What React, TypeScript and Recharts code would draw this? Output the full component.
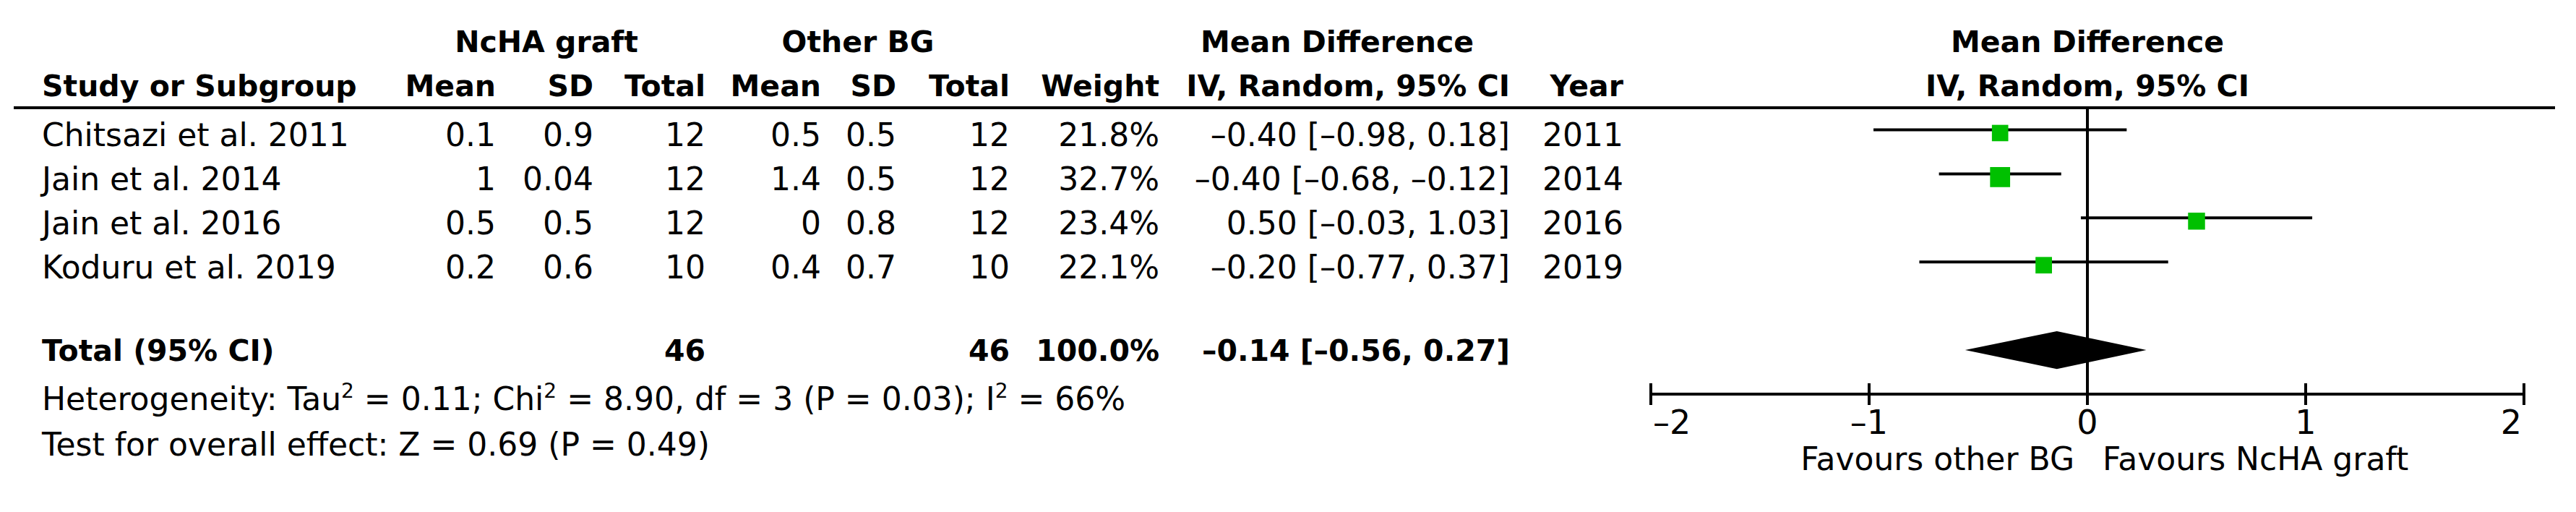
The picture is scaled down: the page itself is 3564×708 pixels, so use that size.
import React from 'react';
import {
  ComposedChart,
  Scatter,
  XAxis,
  YAxis,
  ErrorBar,
  ReferenceLine,
  ReferenceArea,
  Customized,
} from 'recharts';

// ---------- data ----------
const studies = ['Chitsazi et al. 2011', 'Jain et al. 2014', 'Jain et al. 2016', 'Koduru et al. 2019'];
const ncMean = [0.1, 1, 0.5, 0.2];
const ncSD = [0.9, 0.04, 0.5, 0.6];
const ncTotal = [12, 12, 12, 10];
const obMean = [0.5, 1.4, 0, 0.4];
const obSD = [0.5, 0.5, 0.8, 0.7];
const obTotal = [12, 12, 12, 10];
const weights = [21.8, 32.7, 23.4, 22.1];
const md = [-0.4, -0.4, 0.5, -0.2];
const ciLow = [-0.98, -0.68, -0.03, -0.77];
const ciHigh = [0.18, -0.12, 1.03, 0.37];
const years = [2011, 2014, 2016, 2019];

const totalLabel = 'Total (95% CI)';
const totalNc = 46;
const totalOb = 46;
const totalWeight = 100.0;
const totalMd = -0.14;
const totalLow = -0.56;
const totalHigh = 0.27;

const heterogeneity = { tau2: '0.11', chi2: '8.90', df: '3', p: '0.03', i2: '66%' };
const overall = { z: '0.69', p: '0.49' };

const xTicks = [-2, -1, 0, 1, 2];
const leftFavours = 'Favours other BG';
const rightFavours = 'Favours NcHA graft';

// ---------- helpers ----------
const MINUS = '\u2013';
const fmt = (v: number, d?: number) => {
  const s = d === undefined ? String(Math.abs(v)) : Math.abs(v).toFixed(d);
  return (v < 0 ? MINUS : '') + s;
};
const ciText = (m: number, lo: number, hi: number) => `${fmt(m, 2)} [${fmt(lo, 2)}, ${fmt(hi, 2)}]`;

const FONT = "'DejaVu Sans', sans-serif";
const FS = 44;
const FSB = 41;
const TOTAL_ROW = 5;
const rowTicks = [...studies.map((_, i) => i), TOTAL_ROW];

const points = studies.map((_, i) => ({
  x: md[i],
  y: i,
  err: [md[i] - ciLow[i], ciHigh[i] - md[i]],
  w: weights[i],
}));

// column anchor positions (right edges unless noted)
const COL = {
  study: 58,
  ncMean: 686,
  ncSD: 821,
  ncTotal: 976,
  obMean: 1136,
  obSD: 1240,
  obTotal: 1397,
  weight: 1604,
  ci: 2089,
  year: 2246,
};

const RowTick = (props: any) => {
  const { y, payload } = props;
  const r = payload.value;
  if (r === TOTAL_ROW) {
    const by = y + 15;
    return (
      <g fontFamily={FONT} fontSize={FSB} fontWeight="bold" fill="#000">
        <text x={COL.study} y={by}>{totalLabel}</text>
        <text x={COL.ncTotal} y={by} textAnchor="end">{totalNc}</text>
        <text x={COL.obTotal} y={by} textAnchor="end">{totalOb}</text>
        <text x={COL.weight} y={by} textAnchor="end">{totalWeight.toFixed(1)}%</text>
        <text x={COL.ci} y={by} textAnchor="end">{ciText(totalMd, totalLow, totalHigh)}</text>
      </g>
    );
  }
  const i = r as number;
  const by = y + 23;
  return (
    <g fontFamily={FONT} fontSize={FS} fill="#000">
      <text x={COL.study} y={by}>{studies[i]}</text>
      <text x={COL.ncMean} y={by} textAnchor="end">{fmt(ncMean[i])}</text>
      <text x={COL.ncSD} y={by} textAnchor="end">{fmt(ncSD[i])}</text>
      <text x={COL.ncTotal} y={by} textAnchor="end">{ncTotal[i]}</text>
      <text x={COL.obMean} y={by} textAnchor="end">{fmt(obMean[i])}</text>
      <text x={COL.obSD} y={by} textAnchor="end">{fmt(obSD[i])}</text>
      <text x={COL.obTotal} y={by} textAnchor="end">{obTotal[i]}</text>
      <text x={COL.weight} y={by} textAnchor="end">{weights[i].toFixed(1)}%</text>
      <text x={COL.ci} y={by} textAnchor="end">{ciText(md[i], ciLow[i], ciHigh[i])}</text>
      <text x={COL.year} y={by} textAnchor="end">{years[i]}</text>
    </g>
  );
};

const XTick = (props: any) => {
  const { x, y, payload } = props;
  const v = payload.value;
  const first = v === xTicks[0];
  const last = v === xTicks[xTicks.length - 1];
  const anchor = first ? 'start' : last ? 'end' : 'middle';
  const dx = first ? 3 : last ? -3 : 0;
  return (
    <g>
      <line x1={x} x2={x} y1={y - 15} y2={y + 15} stroke="#000" strokeWidth={4} />
      <text x={x + dx} y={y + 55} textAnchor={anchor} fontFamily={FONT} fontSize={46} fill="#000">
        {fmt(v)}
      </text>
    </g>
  );
};

const Square = (props: any) => {
  const { cx, cy, payload } = props;
  const s = 4.85 * Math.sqrt(payload.w);
  return <rect x={cx - s / 2} y={cy + 4.5 - s / 2} width={s} height={s} fill="#00C000" />;
};

const Diamond = (props: any) => {
  const { x, y, width, height } = props;
  const cx = x + (width * (totalMd - totalLow)) / (totalHigh - totalLow);
  const my = y + height / 2;
  return <polygon points={`${x},${my} ${cx},${y} ${x + width},${my} ${cx},${y + height}`} fill="#000" />;
};

const StaticText = () => (
  <g fontFamily={FONT} fontSize={FS} fill="#000">
    <g fontWeight="bold" fontSize={FSB}>
      <text x={756} y={72} textAnchor="middle">NcHA graft</text>
      <text x={1187} y={72} textAnchor="middle">Other BG</text>
      <text x={1850} y={72} textAnchor="middle">Mean Difference</text>
      <text x={2888} y={72} textAnchor="middle">Mean Difference</text>
      <text x={COL.study} y={133}>Study or Subgroup</text>
      <text x={COL.ncMean} y={133} textAnchor="end">Mean</text>
      <text x={COL.ncSD} y={133} textAnchor="end">SD</text>
      <text x={COL.ncTotal} y={133} textAnchor="end">Total</text>
      <text x={COL.obMean} y={133} textAnchor="end">Mean</text>
      <text x={COL.obSD} y={133} textAnchor="end">SD</text>
      <text x={COL.obTotal} y={133} textAnchor="end">Total</text>
      <text x={COL.weight} y={133} textAnchor="end">Weight</text>
      <text x={COL.ci} y={133} textAnchor="end">IV, Random, 95% CI</text>
      <text x={COL.year} y={133} textAnchor="end">Year</text>
      <text x={2888} y={133} textAnchor="middle">IV, Random, 95% CI</text>
    </g>
    <line x1={19} x2={3535} y1={149} y2={149} stroke="#000" strokeWidth={4} />
    <text x={COL.study} y={567}>
      Heterogeneity: Tau
      <tspan dy={-17} fontSize={28}>2</tspan>
      <tspan dy={17}>{` = ${heterogeneity.tau2}; Chi`}</tspan>
      <tspan dy={-17} fontSize={28}>2</tspan>
      <tspan dy={17}>{` = ${heterogeneity.chi2}, df = ${heterogeneity.df} (P = ${heterogeneity.p}); I`}</tspan>
      <tspan dy={-17} fontSize={28}>2</tspan>
      <tspan dy={17}>{` = ${heterogeneity.i2}`}</tspan>
    </text>
    <text x={COL.study} y={630}>{`Test for overall effect: Z = ${overall.z} (P = ${overall.p})`}</text>
    <text x={2870} y={650} textAnchor="end">{leftFavours}</text>
    <text x={2909} y={650}>{rightFavours}</text>
  </g>
);

export default function App() {
  return (
    <div style={{ position: 'absolute', left: 0, top: 0, width: 3564, height: 708, background: '#fff' }}>
      <ComposedChart
        width={3564}
        height={708}
        margin={{ top: 149, right: 72, bottom: 133, left: 2283 }}
      >
        <XAxis
          type="number"
          dataKey="x"
          domain={[-2, 2]}
          ticks={xTicks}
          allowDataOverflow
          height={30}
          tickSize={0}
          tickMargin={0}
          tickLine={false}
          axisLine={{ stroke: '#000', strokeWidth: 4 }}
          tick={<XTick />}
          interval={0}
        />
        <YAxis
          type="number"
          dataKey="y"
          domain={[-0.5, 6]}
          reversed
          ticks={rowTicks}
          allowDataOverflow
          width={1}
          axisLine={false}
          tickLine={false}
          tick={<RowTick />}
          interval={0}
        />
        <ReferenceLine x={0} stroke="#000" strokeWidth={4} />
        <ReferenceArea
          x1={totalLow}
          x2={totalHigh}
          y1={TOTAL_ROW - 0.43}
          y2={TOTAL_ROW + 0.43}
          shape={<Diamond />}
          ifOverflow="visible"
        />
        <Scatter data={points} isAnimationActive={false} shape={<Square />}>
          <ErrorBar dataKey="err" direction="x" width={0} strokeWidth={4} stroke="#000" isAnimationActive={false} />
        </Scatter>
        <Customized component={StaticText} />
      </ComposedChart>
    </div>
  );
}
